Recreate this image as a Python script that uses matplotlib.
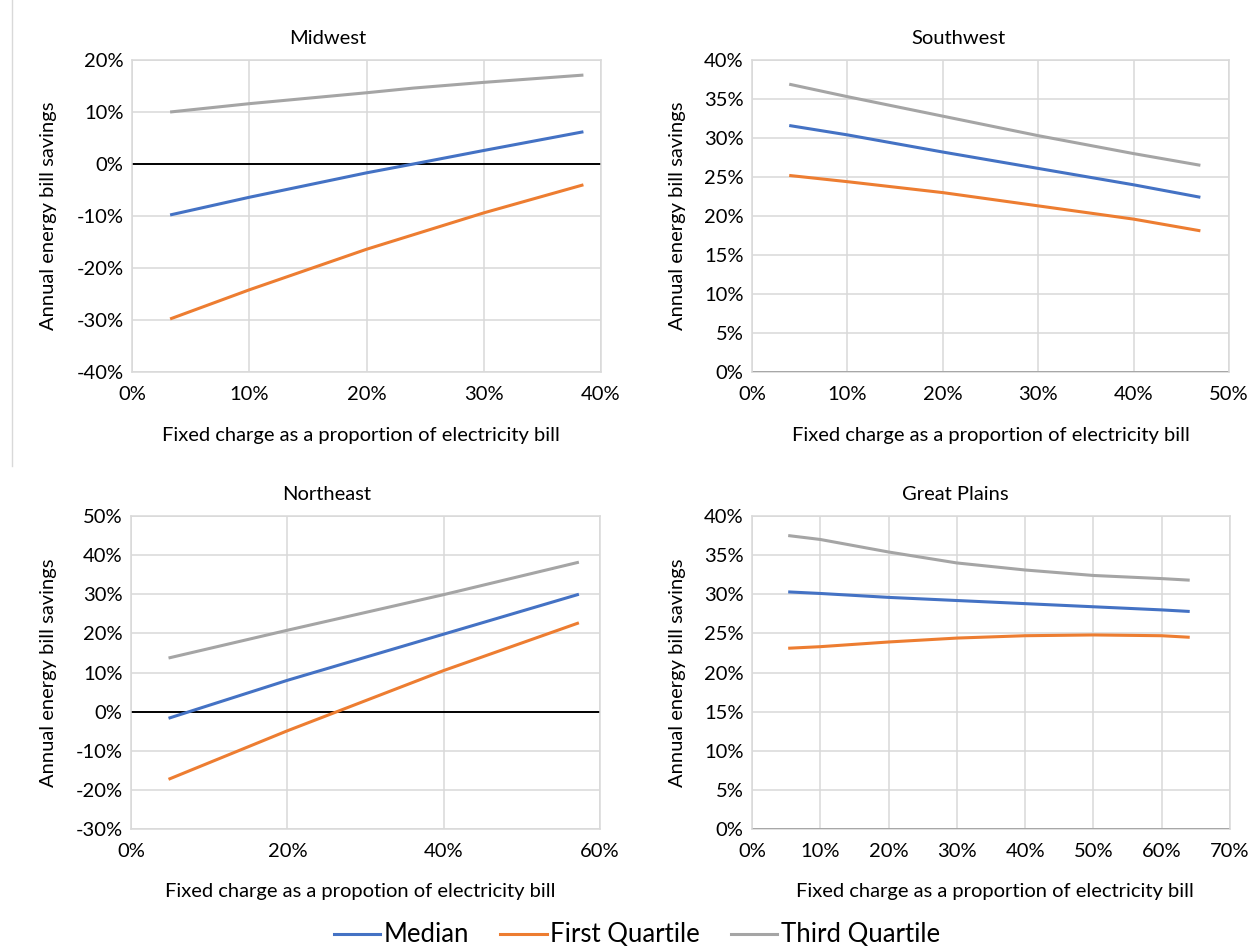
import matplotlib
matplotlib.use("Agg")
import matplotlib.pyplot as plt
from matplotlib.lines import Line2D
from matplotlib.ticker import FuncFormatter

plt.rcParams['font.family'] = ['Lato', 'DejaVu Sans']

# ---------------- data ----------------
series_names = ["Median", "First Quartile", "Third Quartile"]
series_colors = ["#4472C4", "#ED7D31", "#A5A5A5"]

# Midwest
mw_x = [3.25, 10, 20, 24, 30, 38.5]
mw_median = [-9.8, -6.4, -1.7, 0.0, 2.6, 6.2]
mw_q1 = [-29.8, -24.2, -16.4, -13.6, -9.4, -4.0]
mw_q3 = [10.0, 11.6, 13.7, 14.6, 15.7, 17.1]

# Southwest
sw_x = [3.9, 10, 20, 30, 40, 47.0]
sw_median = [31.6, 30.4, 28.2, 26.1, 24.0, 22.4]
sw_q1 = [25.2, 24.4, 23.0, 21.3, 19.6, 18.1]
sw_q3 = [36.9, 35.3, 32.8, 30.3, 28.0, 26.5]

# Northeast
ne_x = [4.8, 20, 40, 57.3]
ne_median = [-1.7, 8.0, 19.8, 30.0]
ne_q1 = [-17.3, -4.9, 10.5, 22.7]
ne_q3 = [13.7, 20.8, 29.9, 38.2]

# Great Plains
gp_x = [5.3, 10, 20, 30, 40, 50, 60, 64.1]
gp_median = [30.3, 30.1, 29.6, 29.2, 28.8, 28.4, 28.0, 27.8]
gp_q1 = [23.1, 23.3, 23.9, 24.4, 24.7, 24.8, 24.7, 24.5]
gp_q3 = [37.5, 37.0, 35.4, 34.0, 33.1, 32.4, 32.0, 31.8]

panels = [
    dict(title="Midwest", x=mw_x, ys=[mw_median, mw_q1, mw_q3],
         xlim=(0, 40), xstep=10, ylim=(-40, 20), ystep=10,
         xlabel="Fixed charge as a proportion of electricity bill",
         px=(132, 601, 60, 372), title_dx=-39, xlab_dx=-6, ylab_x=49),
    dict(title="Southwest", x=sw_x, ys=[sw_median, sw_q1, sw_q3],
         xlim=(0, 50), xstep=10, ylim=(0, 40), ystep=5,
         xlabel="Fixed charge as a proportion of electricity bill",
         px=(752, 1229, 60, 372), title_dx=-32, xlab_dx=0, ylab_x=677),
    dict(title="Northeast", x=ne_x, ys=[ne_median, ne_q1, ne_q3],
         xlim=(0, 60), xstep=20, ylim=(-30, 50), ystep=10,
         xlabel="Fixed charge as a propotion of electricity bill",
         px=(131, 600, 516, 829), title_dx=-39, xlab_dx=-5, ylab_x=49),
    dict(title="Great Plains", x=gp_x, ys=[gp_median, gp_q1, gp_q3],
         xlim=(0, 70), xstep=10, ylim=(0, 40), ystep=5,
         xlabel="Fixed charge as a proportion of electricity bill",
         px=(752, 1230, 516, 829), title_dx=-36, xlab_dx=4, ylab_x=677),
]

W, H = 1260, 948
fig = plt.figure(figsize=(W / 100, H / 100), dpi=100)
fig.patch.set_facecolor("white")

pct = FuncFormatter(lambda v, p: f"{v:.0f}%")
FS = 14.5
GRID = "#D9D9D9"

for p in panels:
    l, r, t, b = p["px"]
    w, h = r - l, b - t
    ax = fig.add_axes([l / W, 1 - b / H, w / W, h / H])
    x0, x1 = p["xlim"]
    y0, y1 = p["ylim"]
    ax.set_xlim(x0, x1)
    ax.set_ylim(y0, y1)
    ax.set_xticks(range(x0, x1 + 1, p["xstep"]))
    ax.set_yticks(range(y0, y1 + 1, p["ystep"]))
    ax.xaxis.set_major_formatter(pct)
    ax.yaxis.set_major_formatter(pct)
    ax.grid(True, color=GRID, linewidth=1.1)
    ax.set_axisbelow(True)
    for s in ax.spines.values():
        s.set_color(GRID)
        s.set_linewidth(1.1)
    ax.tick_params(length=0, labelsize=FS, colors="#000000")
    ax.tick_params(axis="x", pad=10)
    ax.tick_params(axis="y", pad=6)
    ax.axhline(0, color="black", linewidth=1.4, zorder=2)
    for ys, c in zip(p["ys"], series_colors):
        ax.plot(p["x"], ys, color=c, linewidth=2.2, zorder=3,
                solid_capstyle="butt")
    # title centred on the chart area (slightly left of the plot centre)
    ax.text(0.5 + p["title_dx"] / w, 1 + 22 / h, p["title"],
            transform=ax.transAxes, ha="center", va="center", fontsize=FS)
    ax.set_xlabel(p["xlabel"], fontsize=FS)
    ax.xaxis.set_label_coords(0.5 + p["xlab_dx"] / w, -63 / h)
    ax.xaxis.label.set_va("center")
    ax.set_ylabel("Annual energy bill savings", fontsize=FS)
    ax.yaxis.set_label_coords(-(l - p["ylab_x"]) / w, 0.5)
    ax.yaxis.label.set_va("center")

# thin border line at left of the top-left panel
fig.add_artist(Line2D([12 / W, 12 / W], [1 - 0 / H, 1 - 466 / H],
                      color="#D9D9D9", linewidth=1.0))

handles = [Line2D([], [], color=c, linewidth=2.2) for c in series_colors]
fig.legend(handles, series_names, loc="center", ncol=3,
           bbox_to_anchor=(637 / W, 1 - 935 / H), frameon=False,
           fontsize=18.5, handlelength=1.8, handletextpad=0.15,
           columnspacing=1.2)

fig.savefig("out.png", dpi=100, facecolor="white")
